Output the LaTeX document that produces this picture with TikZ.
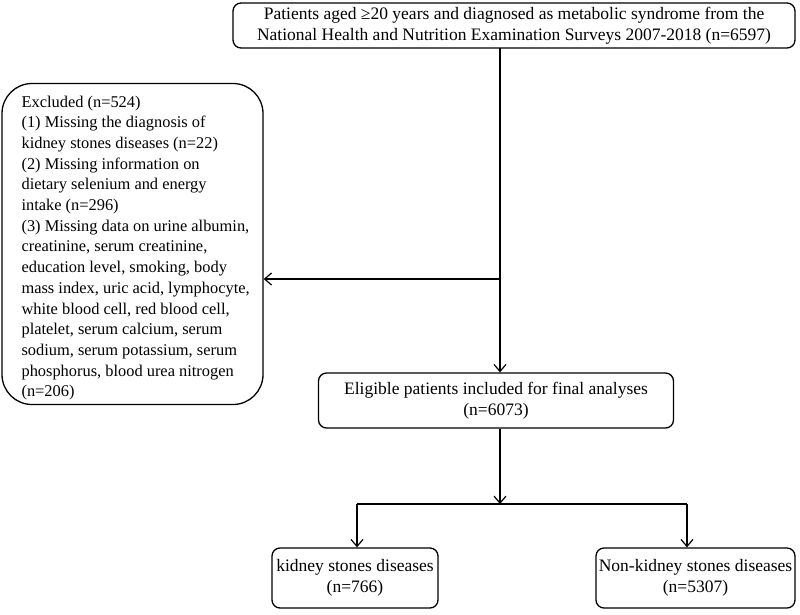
\documentclass[tikz,border=0pt]{standalone}
\usepackage{fontspec}
\setmainfont{Liberation Serif}
\usetikzlibrary{arrows.meta,positioning,calc}
\tikzset{
    flowbox/.style={draw, line width=1.3pt, rounded corners=8pt, align=center, inner sep=0pt,
        font=\fontsize{17.5}{21}\selectfont},
    exclbox/.style={draw, line width=1.3pt, rounded corners=30pt, inner sep=0pt},
    excltext/.style={align=left, inner sep=0pt, font=\fontsize{16.4}{20.7}\selectfont},
    flowarrow/.style={-{Straight Barb[length=7pt, width=12pt, line width=1.2pt]}, line width=1.3pt},
    flowline/.style={line width=1.3pt}
}

\begin{document}
\begin{tikzpicture}[x=1pt, y=-1pt]
            \useasboundingbox (0,0) rectangle (800,614);
            % Source population
            \node[flowbox, minimum width=562pt, minimum height=45pt] (top) at (514,25.5)
                {Patients aged ≥20 years and diagnosed as metabolic syndrome from the\\
                 National Health and Nutrition Examination Surveys 2007-2018 (n=6597)};
            
            % Exclusions
            \node[exclbox, minimum width=261pt, minimum height=321pt] (excl) at (132.5,244) {};
            \node[excltext, anchor=west] (exclnote) at ([xshift=20pt, yshift=-4pt]excl.west)
                {Excluded (n=524)\\
                 (1) Missing the diagnosis of\\
                 kidney stones diseases (n=22)\\
                 (2) Missing information on\\
                 dietary selenium and energy\\
                 intake (n=296)\\
                 (3) Missing data on urine albumin,\\
                 creatinine, serum creatinine,\\
                 education level, smoking, body\\
                 mass index, uric acid, lymphocyte,\\
                 white blood cell, red blood cell,\\
                 platelet, serum calcium, serum\\
                 sodium, serum potassium, serum\\
                 phosphorus, blood urea nitrogen\\
                 (n=206)};
            
            % Eligible patients
            \node[flowbox, minimum width=355pt, minimum height=55pt] (elig) at (496,400.5)
                {Eligible patients included for final analyses\\(n=6073)};
            
            % Groups
            \node[flowbox, minimum width=166pt, minimum height=60pt] (ksd) at (355,578)
                {kidney stones diseases\\(n=766)};
            \node[flowbox, minimum width=199pt, minimum height=60pt] (nksd) at (695.5,578)
                {Non-kidney stones diseases\\(n=5307)};
            
            % Connectors
            \coordinate (topout) at (500,48);
            \coordinate (exjoin) at (500,279);
            \coordinate (split) at (500,504);
            \coordinate (splitl) at (357,504);
            \coordinate (splitr) at (687,504);
            \draw[flowarrow] (topout) -- (topout |- elig.north);
            \draw[flowarrow] (exjoin) -- (exjoin -| excl.east);
            \draw[flowarrow] (elig.south -| split) -- (split);
            \draw[flowline] (splitl) -- (splitr);
            \draw[flowarrow] (splitl) -- (splitl |- ksd.north);
            \draw[flowarrow] (splitr) -- (splitr |- nksd.north);
        \end{tikzpicture}
\end{document}
